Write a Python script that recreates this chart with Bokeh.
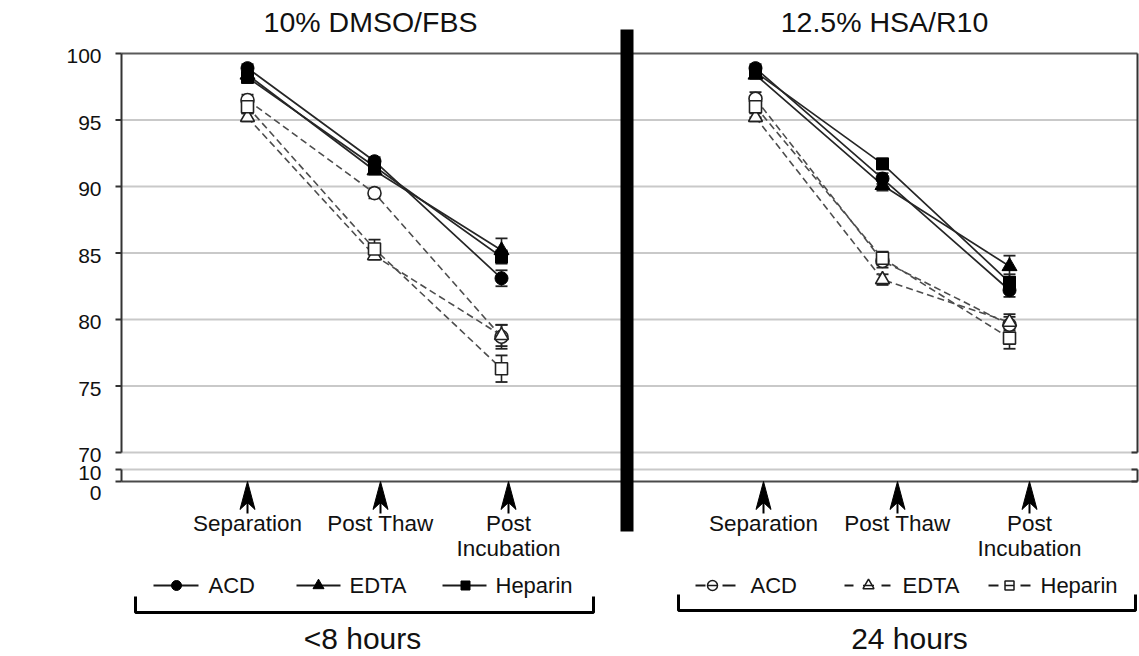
import math
from bokeh.plotting import figure
from bokeh.models import ColumnDataSource, FixedTicker, Label, Range1d, Whisker, TeeHead
from bokeh.core.properties import value
from bokeh.embed import file_html
from bokeh.resources import INLINE

# ---------------- data ----------------
stages = ["Separation", "Post Thaw", "Post\nIncubation"]
panel_titles = ["10% DMSO/FBS", "12.5% HSA/R10"]
time_labels = ["<8 hours", "24 hours"]
anticoagulants = ["ACD", "EDTA", "Heparin"]
y_tick_values = [0, 10, 70, 75, 80, 85, 90, 95, 100]

# 10% DMSO/FBS panel
dmso_lt8_acd = [98.9, 91.9, 83.1]
dmso_lt8_edta = [98.4, 91.2, 85.2]
dmso_lt8_hep = [98.2, 91.5, 84.7]
dmso_24_acd = [96.5, 89.5, 78.7]
dmso_24_edta = [95.2, 84.8, 78.8]
dmso_24_hep = [96.0, 85.3, 76.3]
dmso_lt8_acd_err = [0.3, 0.3, 0.6]
dmso_lt8_edta_err = [0.3, 0.3, 0.9]
dmso_lt8_hep_err = [0.3, 0.3, 0.5]
dmso_24_acd_err = [0.4, 0.4, 0.9]
dmso_24_edta_err = [0.3, 0.3, 0.8]
dmso_24_hep_err = [0.5, 0.7, 1.0]

# 12.5% HSA/R10 panel
hsa_lt8_acd = [98.9, 90.6, 82.2]
hsa_lt8_edta = [98.4, 90.1, 84.0]
hsa_lt8_hep = [98.6, 91.7, 82.8]
hsa_24_acd = [96.6, 84.4, 79.6]
hsa_24_edta = [95.2, 83.0, 79.8]
hsa_24_hep = [96.0, 84.6, 78.6]
hsa_lt8_acd_err = [0.3, 0.4, 0.5]
hsa_lt8_edta_err = [0.3, 0.4, 0.8]
hsa_lt8_hep_err = [0.3, 0.4, 0.6]
hsa_24_acd_err = [0.5, 0.5, 0.6]
hsa_24_edta_err = [0.3, 0.4, 0.6]
hsa_24_hep_err = [0.8, 0.5, 0.8]

# ---------------- layout helpers (pixel -> data) ----------------
W, H = 1139, 656
PX_X0, PX_PER_X = 247.0, 127.0      # Separation position of left panel
PX_Y100, PX_PER_Y = 53.0, 13.3      # y=100 position, pixels per unit


def dx(px):
    return (px - PX_X0) / PX_PER_X


def dy(px):
    return 100.0 - (px - PX_Y100) / PX_PER_Y


def val_px(v):
    return PX_Y100 + (100.0 - v) * PX_PER_Y


FONT = value("Liberation Sans")
PANEL_OFFSET = [0, 4]

p = figure(width=W, height=H, output_backend="svg", toolbar_location=None,
           x_range=Range1d(dx(112), dx(W)), y_range=Range1d(dy(H), dy(0)),
           x_axis_location=None, min_border_left=112, min_border_right=0,
           min_border_top=0, min_border_bottom=0)
p.outline_line_color = None
p.xgrid.visible = False
p.ygrid.visible = False
p.background_fill_color = "white"
p.border_fill_color = "white"

# ---- y axis labels (broken axis: 0, 10 | 70 .. 100) ----
label_px = {0: 492.0, 10: 472.0}
ticks, overrides = [], {}
for v in y_tick_values:
    px = label_px.get(v, val_px(v) + 3.0)
    t = round(dy(px), 5)
    ticks.append(t)
    overrides[t] = str(v)
ax = p.yaxis[0]
ax.ticker = FixedTicker(ticks=ticks)
ax.major_label_overrides = overrides
ax.axis_line_color = None
ax.major_tick_line_color = None
ax.minor_tick_line_color = None
ax.major_tick_out = 0
ax.major_tick_in = 0
ax.major_label_standoff = 11
ax.major_label_text_font = "Liberation Sans"
ax.major_label_text_font_size = "21px"
ax.major_label_text_color = "#111111"

# ---- grid lines ----
grid_main = [v for v in y_tick_values if 70 <= v < 100]
gx0, gx1 = dx(121), dx(1137)
p.segment(x0=[gx0] * len(grid_main), x1=[gx1] * len(grid_main), y0=grid_main, y1=grid_main,
          line_color="#c9c9c9", line_width=2)
p.segment(x0=[gx0], x1=[gx1], y0=[dy(469)], y1=[dy(469)], line_color="#c9c9c9", line_width=2)
# top and bottom frame lines
p.segment(x0=[gx0], x1=[gx1], y0=[100], y1=[100], line_color="#5a5a5a", line_width=2)
p.segment(x0=[gx0], x1=[gx1], y0=[dy(481)], y1=[dy(481)], line_color="#4a4a4a", line_width=2)

# left axis line and ticks
axis_col = "#333333"
p.segment(x0=[gx0, gx0], x1=[gx0, gx0], y0=[70, dy(469)], y1=[100, dy(481)],
          line_color=axis_col, line_width=2)
tick_ys = grid_main + [100, dy(469), dy(481)]
p.segment(x0=[dx(115)] * len(tick_ys), x1=[gx0] * len(tick_ys), y0=tick_ys, y1=tick_ys,
          line_color=axis_col, line_width=2)
# right border with break
p.segment(x0=[gx1, gx1], x1=[gx1, gx1], y0=[70, dy(469)], y1=[100, dy(481)],
          line_color=axis_col, line_width=2)
rt = [70, dy(469), dy(481)]
p.segment(x0=[dx(1131)] * 3, x1=[gx1] * 3, y0=rt, y1=rt, line_color=axis_col, line_width=2)

# ---- series ----
panels = [
    [(dmso_lt8_acd, dmso_lt8_acd_err), (dmso_lt8_edta, dmso_lt8_edta_err), (dmso_lt8_hep, dmso_lt8_hep_err)],
    [(hsa_lt8_acd, hsa_lt8_acd_err), (hsa_lt8_edta, hsa_lt8_edta_err), (hsa_lt8_hep, hsa_lt8_hep_err)],
]
panels_24 = [
    [(dmso_24_acd, dmso_24_acd_err), (dmso_24_edta, dmso_24_edta_err), (dmso_24_hep, dmso_24_hep_err)],
    [(hsa_24_acd, hsa_24_acd_err), (hsa_24_edta, hsa_24_edta_err), (hsa_24_hep, hsa_24_hep_err)],
]
markers = ["circle", "triangle", "square"]
solid_sizes = [13, 15, 12]
open_sizes = [13, 14, 12]

sources = []
for pi in range(2):
    for k in range(3):
        for kind, group in (("24", panels_24), ("lt8", panels)):
            vals, errs = group[pi][k]
            xs = [PANEL_OFFSET[pi] + i for i in range(len(stages))]
            src = ColumnDataSource(dict(x=xs, y=vals,
                                        lo=[v - e for v, e in zip(vals, errs)],
                                        hi=[v + e for v, e in zip(vals, errs)]))
            sources.append((kind, k, src))

# lines: dashed first, then solid
for kind, k, src in sources:
    if kind == "24":
        p.line("x", "y", source=src, line_color="#4d4d4d", line_width=1.6, line_dash="7 4")
for kind, k, src in sources:
    if kind == "lt8":
        p.line("x", "y", source=src, line_color="#262626", line_width=1.7)

for kind, k, src in sources:
    p.add_layout(Whisker(source=src, base="x", upper="hi", lower="lo", dimension="height",
                         line_color="#222222", line_width=1.6,
                         upper_head=TeeHead(size=12, line_color="#222222", line_width=1.8),
                         lower_head=TeeHead(size=12, line_color="#222222", line_width=1.8)))

for kind, k, src in sources:
    if kind == "24":
        p.scatter("x", "y", source=src, marker=markers[k], size=open_sizes[k],
                  fill_color="white", line_color="#222222", line_width=1.6)
for kind, k, src in sources:
    if kind == "lt8":
        p.scatter("x", "y", source=src, marker=markers[k], size=solid_sizes[k],
                  fill_color="black", line_color="black", line_width=1)

# ---- divider bar ----
p.quad(left=[dx(620)], right=[dx(633)], top=[dy(29)], bottom=[dy(531)],
       fill_color="black", line_color=None)

# ---- panel titles ----
p.text(x=[dx(370), dx(884)], y=[dy(21), dy(21)], text=panel_titles,
       text_font=FONT, text_font_size="28.5px", text_align="center",
       text_baseline="middle", text_color="#111111")

# ---- stage arrows and labels ----
arrow_px = [[247, 380, 508], [763, 897, 1029]]
axs, ays = [], []
for row in arrow_px:
    for ax_px in row:
        axs.append([dx(ax_px), dx(ax_px + 7.5), dx(ax_px), dx(ax_px - 7.5)])
        ays.append([dy(481), dy(509), dy(502), dy(509)])
p.patches(axs, ays, fill_color="black", line_color="black", line_width=1)
shaft_x = [dx(a) for row in arrow_px for a in row]
p.segment(x0=shaft_x, x1=shaft_x, y0=[dy(495)] * len(shaft_x), y1=[dy(513)] * len(shaft_x),
          line_color="black", line_width=2)
lab_x = [dx(a) for row in arrow_px for a in row]
p.text(x=lab_x, y=[dy(510)] * len(lab_x), text=stages * 2, text_font=FONT,
       text_font_size="22.5px", text_align="center", text_baseline="top",
       text_line_height=1.02, text_color="#111111")

# ---- legends ----
ly = dy(585)
# <8 hours (solid, filled)
solid_line_px = [(153, 198), (296, 340), (442, 486)]
solid_mark_px = [176, 318, 465]
solid_text_px = [208, 349, 495]
p.segment(x0=[dx(a) for a, b in solid_line_px], x1=[dx(b) for a, b in solid_line_px],
          y0=[ly] * 3, y1=[ly] * 3, line_color="#1a1a1a", line_width=2)
for k in range(3):
    p.scatter([dx(solid_mark_px[k])], [ly], marker=markers[k], size=[10, 11, 9][k],
              fill_color="black", line_color="black")
p.text(x=[dx(t) for t in solid_text_px], y=[ly] * 3, text=anticoagulants, text_font=FONT,
       text_font_size="22px", text_align="left", text_baseline="middle", text_color="#111111")
# 24 hours (dashed, open)
open_dash_px = [(695, 705), (722, 735), (844, 853), (881, 890), (988, 998), (1020, 1030)]
open_mark_px = [712, 868, 1009]
open_text_px = [750, 902, 1040]
p.segment(x0=[dx(a) for a, b in open_dash_px], x1=[dx(b) for a, b in open_dash_px],
          y0=[ly] * 6, y1=[ly] * 6, line_color="#1a1a1a", line_width=2)
for k in range(3):
    p.scatter([dx(open_mark_px[k])], [ly], marker=markers[k], size=[10, 11, 9][k],
              fill_color=None, line_color="#1a1a1a", line_width=1.5)
    p.scatter([dx(open_mark_px[k])], [ly], marker="dash", size=[10, 11, 9][k],
              line_color="#1a1a1a", line_width=1.5)
p.text(x=[dx(t) for t in open_text_px], y=[ly] * 3, text=anticoagulants, text_font=FONT,
       text_font_size="22px", text_align="left", text_baseline="middle", text_color="#111111")

# ---- brackets ----
p.multi_line(xs=[[dx(135), dx(135), dx(593), dx(593)], [dx(678), dx(678), dx(1135), dx(1135)]],
             ys=[[dy(596), dy(612), dy(612), dy(596)], [dy(594), dy(610), dy(610), dy(594)]],
             line_color="black", line_width=3)
p.text(x=[dx(362), dx(909)], y=[dy(638), dy(638)], text=time_labels, text_font=FONT,
       text_font_size="30px", text_align="center", text_baseline="middle", text_color="#111111")

# ---- y axis title ----
p.add_layout(Label(x=dx(27), y=dy(255), text="Percent Viability", angle=math.pi / 2,
                   text_font="Liberation Sans", text_font_size="29px", text_align="center",
                   text_baseline="middle", text_color="#111111"))

open("out.html", "w").write(file_html(p, INLINE))
